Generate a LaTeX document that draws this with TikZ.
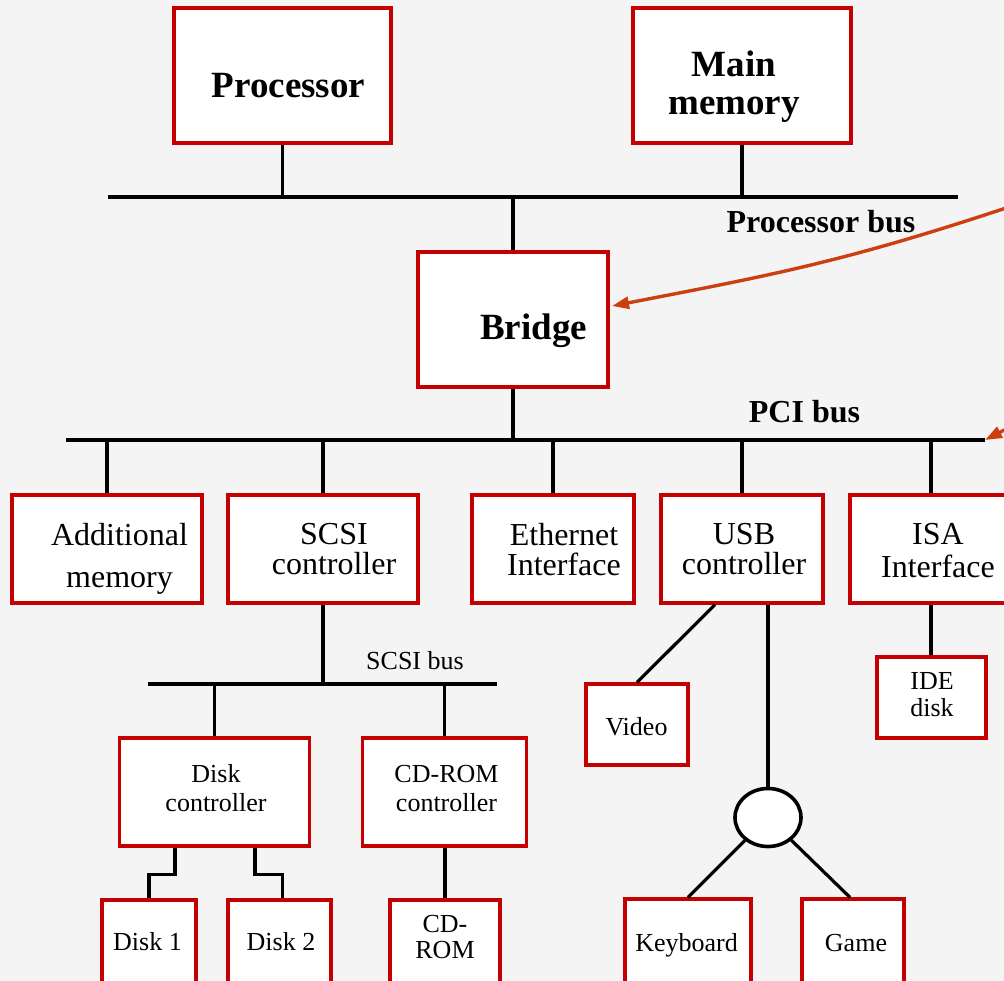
\documentclass[tikz,border=0pt]{standalone}
\usepackage{fontspec}
\setmainfont{Liberation Serif}
\usetikzlibrary{shapes.geometric,arrows.meta,calc}
\definecolor{boxred}{RGB}{196,0,0}
\definecolor{arrred}{RGB}{204,64,16}
\definecolor{bgc}{RGB}{244,244,244}
\begin{document}
\begin{tikzpicture}[x=1pt,y=-1pt,
  box/.style={draw=boxred, line width=3.2pt, fill=white, inner sep=0pt},
  conn/.style={line width=3.2pt, black},
  arr/.style={draw=arrred, line width=3.4pt, -{Triangle[length=17pt,width=12pt]}},
  big/.style={font=\fontsize{37}{38}\selectfont\bfseries, inner sep=0pt, align=center},
  buslbl/.style={font=\fontsize{32}{34}\selectfont\bfseries, inner sep=0pt, anchor=base},
  mid/.style={font=\fontsize{32}{30}\selectfont, inner sep=0pt, align=center},
  small/.style={font=\fontsize{26}{29}\selectfont, inner sep=0pt, align=center},
  smallb/.style={font=\fontsize{26}{29}\selectfont, inner sep=0pt, anchor=base}]
\useasboundingbox (0,0) rectangle (1004,981);
\clip (0,0) rectangle (1004,981);
\fill[bgc] (0,0) rectangle (1004,981);

% bus coordinates
\coordinate (pbL) at (108,197);
\coordinate (pbR) at (958,197);
\coordinate (pciL) at (66,440);
\coordinate (pciR) at (985,440);
\coordinate (sbL) at (148,684);
\coordinate (sbR) at (497,684);

% boxes
\node[box, minimum width=217pt, minimum height=135pt] (proc) at (282.5,75.5) {};
\node[box, minimum width=218pt, minimum height=135pt] (mem) at (742,75.5) {};
\node[box, minimum width=190pt, minimum height=135pt] (bridge) at (513,319.5) {};
\node[box, minimum width=190pt, minimum height=108pt] (addmem) at (107,549) {};
\node[box, minimum width=190pt, minimum height=108pt] (scsi) at (323,549) {};
\node[box, minimum width=162pt, minimum height=108pt] (eth) at (553,549) {};
\node[box, minimum width=162pt, minimum height=108pt] (usb) at (742,549) {};
\node[box, minimum width=162pt, minimum height=108pt] (isa) at (931,549) {};
\node[box, minimum width=190pt, minimum height=108pt] (diskc) at (214.5,792) {};
\node[box, minimum width=164pt, minimum height=108pt] (cdc) at (444.5,792) {};
\node[box, minimum width=102pt, minimum height=81pt] (video) at (637,724.5) {};
\node[box, minimum width=109pt, minimum height=81pt] (ide) at (931.5,697.5) {};
\node[box, minimum width=94pt, minimum height=92pt] (disk1) at (149,946) {};
\node[box, minimum width=103pt, minimum height=92pt] (disk2) at (279.5,946) {};
\node[box, minimum width=110pt, minimum height=92pt] (cdrom) at (445,946) {};
\node[box, minimum width=126pt, minimum height=92pt] (kbd) at (688,945) {};
\node[box, minimum width=102pt, minimum height=92pt] (game) at (853,945) {};
\node[draw=black, line width=3.6pt, fill=white, ellipse, inner sep=0pt,
      minimum width=66pt, minimum height=58pt] (hub) at (768,817.5) {};

% texts
\node[big, anchor=base] (proc-t) at (288.5,98) {Processor};
\node[big] (mem-t) at (734,86.5) {Main\\memory};
\node[big, anchor=base] (bridge-t) at (533.5,340) {Bridge};
\node[buslbl] (pb-t) at (821,233) {Processor bus};
\node[buslbl] (pci-t) at (804.5,422) {PCI bus};
\node[mid] (addmem-t) at (119.5,558.5) {Additional\\[12pt]memory};
\node[mid] (scsi-t) at (334,549.4) {SCSI\\controller};
\node[mid] (eth-t) at (564,549.2) {Ethernet\\Interface};
\node[mid] (usb-t) at (744,549.4) {USB\\controller};
\node[mid] (isa-t) at (938,551) {ISA\\[3pt]Interface};
\node[smallb] (sb-t) at (415,669) {SCSI bus};
\node[small] (diskc-t) at (216,788.6) {Disk\\controller};
\node[small] (cdc-t) at (446.5,788.7) {CD-ROM\\controller};
\node[smallb] (video-t) at (636.5,735) {Video};
\node[small] (ide-t) at (932,694.9) {IDE\\[-2pt]disk};
\node[smallb] (disk1-t) at (147.5,950) {Disk 1};
\node[smallb] (disk2-t) at (281,950) {Disk 2};
\node[small] (cdrom-t) at (445,937.2) {CD-\\[-3pt]ROM};
\node[smallb] (kbd-t) at (686.5,951) {Keyboard};
\node[smallb] (game-t) at (856,951) {Game};

% buses and connectors
\draw[conn] (pbL) -- (pbR);
\draw[conn] (proc.south) -- (proc.south |- pbL);
\draw[conn] (mem.south) -- (mem.south |- pbL);
\draw[conn] (bridge.north) -- (bridge.north |- pbL);
\draw[conn] (bridge.south) -- (bridge.south |- pciL);
\draw[conn] (pciL) -- (pciR);
\foreach \n in {addmem,scsi,eth,usb,isa}
  \draw[conn] (\n.north) -- (\n.north |- pciL);
\draw[conn] (scsi.south) -- (scsi.south |- sbL);
\draw[conn] (sbL) -- (sbR);
\draw[conn] (diskc.north) -- (diskc.north |- sbL);
\draw[conn] (cdc.north) -- (cdc.north |- sbL);
\draw[conn] ([xshift=-39.5pt]diskc.south) -- ++(0,27) -| (disk1.north);
\draw[conn] ([xshift=40.5pt]diskc.south) -- ++(0,27) -| ([xshift=3pt]disk2.north);
\draw[conn] (cdrom.north |- cdc.south) -- (cdrom.north);
\draw[conn] ([xshift=-27pt]usb.south) -- (video.north);
\draw[conn] (hub.north |- usb.south) -- (hub.north);
\draw[conn] (hub) -- (kbd.north);
\draw[conn] (hub) -- ([xshift=-3pt]game.north);
\draw[conn] (isa.south) -- (isa.south |- ide.north);

% red arrows
\coordinate (a1s) at (1012,206);
\coordinate (a1e) at (612,306);
\draw[arr] (a1s) .. controls (844,262) and (772,275) .. (a1e);
\coordinate (a2s) at (1014,425);
\draw[arr] (a2s) -- (pciR);
\end{tikzpicture}
\end{document}
